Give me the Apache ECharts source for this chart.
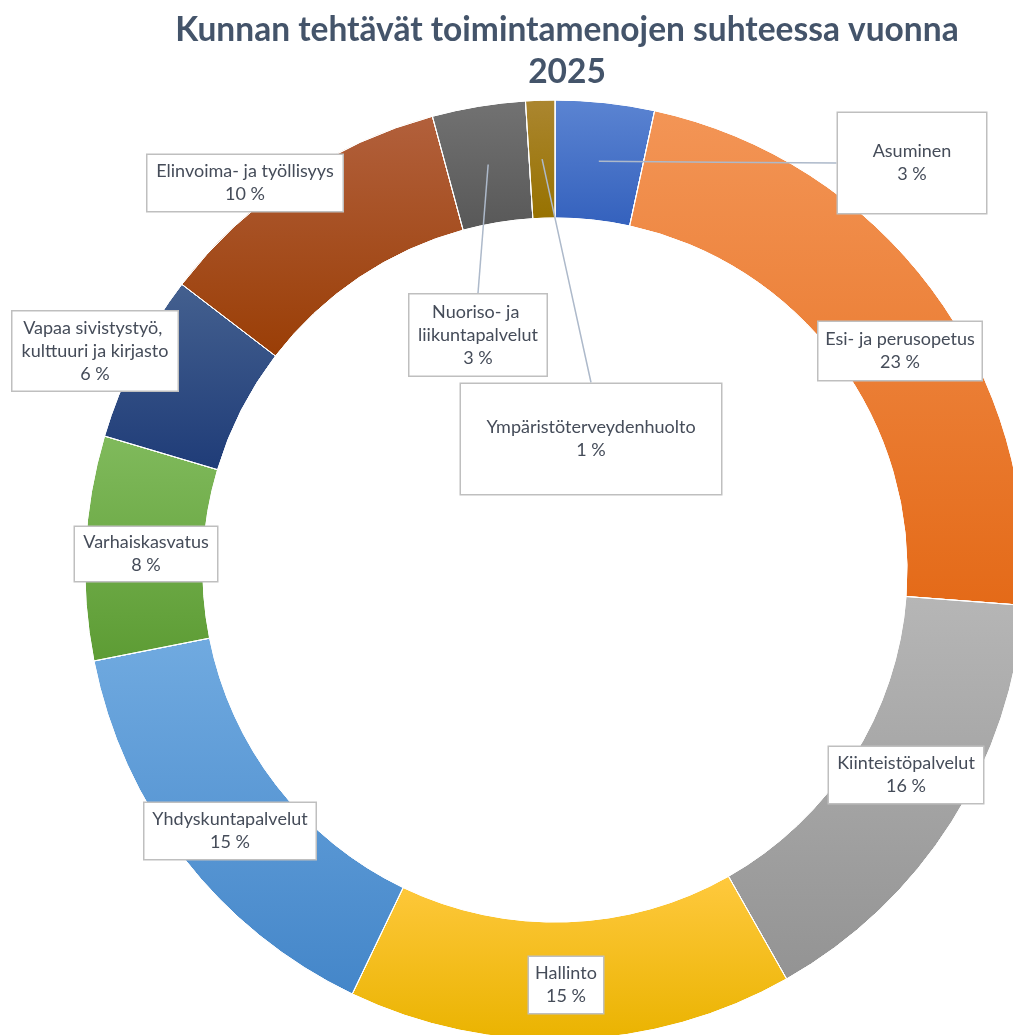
<!DOCTYPE html>
<html>
<head>
<meta charset="utf-8">
<script src="https://cdn.jsdelivr.net/npm/echarts@6/dist/echarts.min.js"></script>
<style>
  html, body { margin: 0; padding: 0; background: #fff; }
  #main { width: 1013px; height: 1035px; }
</style>
</head>
<body>
<div id="main"></div>
<script>
// tehtävät ja niiden osuudet (%), luettu kuvasta
var categories = [
  'Asuminen',
  'Esi- ja perusopetus',
  'Kiinteistöpalvelut',
  'Hallinto',
  'Yhdyskuntapalvelut',
  'Varhaiskasvatus',
  'Vapaa sivistystyö, kulttuuri ja kirjasto',
  'Elinvoima- ja työllisyys',
  'Nuoriso- ja liikuntapalvelut',
  'Ympäristöterveydenhuolto'
];
var shares = [3.4, 22.8, 15.6, 15.3, 14.8, 7.7, 5.8, 10.4, 3.2, 1.0];

// liukuväri ylhäältä alas
var colorTop    = ['#5b84d2', '#f39556', '#b6b6b6', '#ffc93e', '#70aae0', '#80ba5c', '#44608f', '#b2603c', '#727272', '#ab8630'];
var colorBottom = ['#3461bd', '#e46a18', '#939393', '#eab300', '#4486c9', '#5d9c34', '#1f3c78', '#9a3e06', '#585858', '#977200'];

// selitelaatikot: keskipiste x, y, laatikon leveys, pystypehmuste
var labelBoxes = [
  [912, 163, 151, 27],
  [900, 351, 166, 6],
  [906, 775, 157, 5],
  [566, 985, 77, 5],
  [230, 831, 174, 5],
  [146, 554, 145, 4],
  [95, 351, 168, 5],
  [245, 183, 198, 5],
  [478, 335, 140, 6],
  [591, 439, 263, 32]
];
var leader = [true, false, false, false, false, false, false, false, true, true];

var CX = 555, CY = 570, R0 = 352, R1 = 470;
var RM = (R0 + R1) / 2;
var PAD_H = 2;

var chart = echarts.init(document.getElementById('main'));

var ringData = categories.map(function (name, i) {
  return {
    name: name,
    value: shares[i],
    itemStyle: {
      color: {
        type: 'linear', x: 0, y: 0, x2: 0, y2: 1,
        colorStops: [{ offset: 0, color: colorTop[i] }, { offset: 1, color: colorBottom[i] }]
      }
    }
  };
});

// sama data läpinäkyvänä, jotta selitteet ja viivat piirtyvät renkaan päälle
var labelData = categories.map(function (name, i) {
  return {
    name: name,
    value: shares[i],
    label: {
      width: labelBoxes[i][2] - 2 * PAD_H - 3,
      padding: [labelBoxes[i][3], PAD_H, labelBoxes[i][3], PAD_H]
    },
    labelLine: { show: leader[i] }
  };
});

function sliceMid(i) {
  var total = shares.reduce(function (a, b) { return a + b; }, 0);
  var before = 0;
  for (var k = 0; k < i; k++) before += shares[k];
  var ang = (before + shares[i] / 2) / total * Math.PI * 2;
  return [CX + RM * Math.sin(ang), CY - RM * Math.cos(ang)];
}

chart.setOption({
  title: {
    text: 'Kunnan tehtävät toimintamenojen suhteessa vuonna\n2025',
    left: 567,
    top: 9,
    padding: 0,
    textAlign: 'center',
    textStyle: {
      fontFamily: 'Lato',
      fontWeight: 'bold',
      fontSize: 33.5,
      lineHeight: 42,
      color: '#44546a'
    }
  },
  series: [{
    type: 'pie',
    center: [CX, CY],
    radius: [R0, R1],
    startAngle: 90,
    clockwise: true,
    silent: true,
    emphasis: { disabled: true, scale: false },
    itemStyle: { borderColor: '#ffffff', borderWidth: 1 },
    label: { show: false },
    labelLine: { show: false },
    data: ringData
  }, {
    type: 'pie',
    z: 3,
    center: [CX, CY],
    radius: [R0, R1],
    startAngle: 90,
    clockwise: true,
    avoidLabelOverlap: false,
    silent: true,
    emphasis: { disabled: true, scale: false },
    itemStyle: { color: 'rgba(0,0,0,0)', borderWidth: 0 },
    label: {
      show: true,
      position: 'outside',
      fontFamily: 'Lato',
      fontSize: 18,
      lineHeight: 23,
      color: '#454c59',
      align: 'center',
      overflow: 'break',
      backgroundColor: '#ffffff',
      borderColor: '#bfbfbf',
      borderWidth: 1.5,
      formatter: function (p) {
        return p.name + '\n' + Math.round(p.percent) + ' %';
      }
    },
    labelLine: {
      show: true,
      lineStyle: { color: '#adb9ca', width: 1.5 }
    },
    labelLayout: function (p) {
      var i = p.dataIndex;
      var b = labelBoxes[i];
      var res = { x: b[0], y: b[1], align: 'center', verticalAlign: 'middle' };
      if (leader[i]) {
        var s;
        if (p.labelLinePoints && p.labelLinePoints[0]) {
          var a = p.labelLinePoints[0];
          var d = Math.sqrt((a[0] - CX) * (a[0] - CX) + (a[1] - CY) * (a[1] - CY));
          s = [CX + (a[0] - CX) * RM / d, CY + (a[1] - CY) * RM / d];
        } else {
          s = sliceMid(i);
        }
        var w = p.labelRect.width, h = p.labelRect.height;
        var ends = [[b[0] - w / 2, b[1]], [b[0] + w / 2, b[1]], [b[0], b[1] - h / 2], [b[0], b[1] + h / 2]];
        var best = ends[0], bd = Infinity;
        ends.forEach(function (e) {
          var dd = (e[0] - s[0]) * (e[0] - s[0]) + (e[1] - s[1]) * (e[1] - s[1]);
          if (dd < bd) { bd = dd; best = e; }
        });
        res.labelLinePoints = [s, [(s[0] + best[0]) / 2, (s[1] + best[1]) / 2], best];
      }
      return res;
    },
    data: labelData
  }]
});
</script>
</body>
</html>
